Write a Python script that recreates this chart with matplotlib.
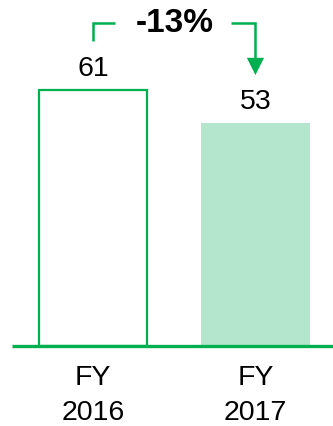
import matplotlib
matplotlib.use("Agg")
import matplotlib.pyplot as plt

# Data
categories = ["FY\n2016", "FY\n2017"]
values = [61, 53]
change_label = "-13%"

GREEN = "#00B050"
LIGHT = "#B3E6CC"

plt.rcParams['font.family'] = ['Liberation Sans', 'DejaVu Sans']

fig = plt.figure(figsize=(3.33, 4.27), dpi=100)
ax = fig.add_axes([0, 0, 1, 1])
ax.set_xlim(-0.574, 1.478)
ax.set_ylim(-19.05, 82.6)
ax.axis("off")

x = [0, 1]
width = 0.667
ax.bar(x[0], values[0], width=width, facecolor="white", edgecolor=GREEN, linewidth=1.6, zorder=2)
ax.bar(x[1], values[1], width=width, facecolor=LIGHT, edgecolor="none", zorder=2)

# baseline
ax.plot([-0.50, 1.478], [0, 0], color=GREEN, linewidth=2.4, solid_capstyle="butt", zorder=3, clip_on=False)

# value labels
for xi, v in zip(x, values):
    ax.text(xi, v + 5.2, f"{v}", ha="center", va="center", fontsize=20.5, color="black")

# category labels, one text per line
for xi, c in zip(x, categories):
    top, bottom = c.split("\n")
    ax.text(xi, -7.5, top, ha="center", va="center", fontsize=20.5, color="black")
    ax.text(xi, -15.6, bottom, ha="center", va="center", fontsize=20.5, color="black")

# change bracket with arrow into the second bar's label
yb = max(values) + 15.9
head_top = values[1] + 15.6
tip = values[1] + 11.5
ax.plot([x[0], x[0], x[0] + 0.136], [max(values) + 11.6, yb, yb], color=GREEN, linewidth=1.8,
        solid_joinstyle="miter", solid_capstyle="butt")
ax.plot([x[1] - 0.148, x[1], x[1]], [yb, yb, head_top], color=GREEN, linewidth=1.8,
        solid_joinstyle="miter", solid_capstyle="butt")
hw = 0.053
ax.fill([x[1] - hw, x[1] + hw, x[1]], [head_top, head_top, tip], color=GREEN, linewidth=0)
ax.text(0.5, yb + 0.2, change_label, ha="center", va="center", fontsize=24, fontweight="bold", color="black")

fig.savefig("out.png", dpi=100)
